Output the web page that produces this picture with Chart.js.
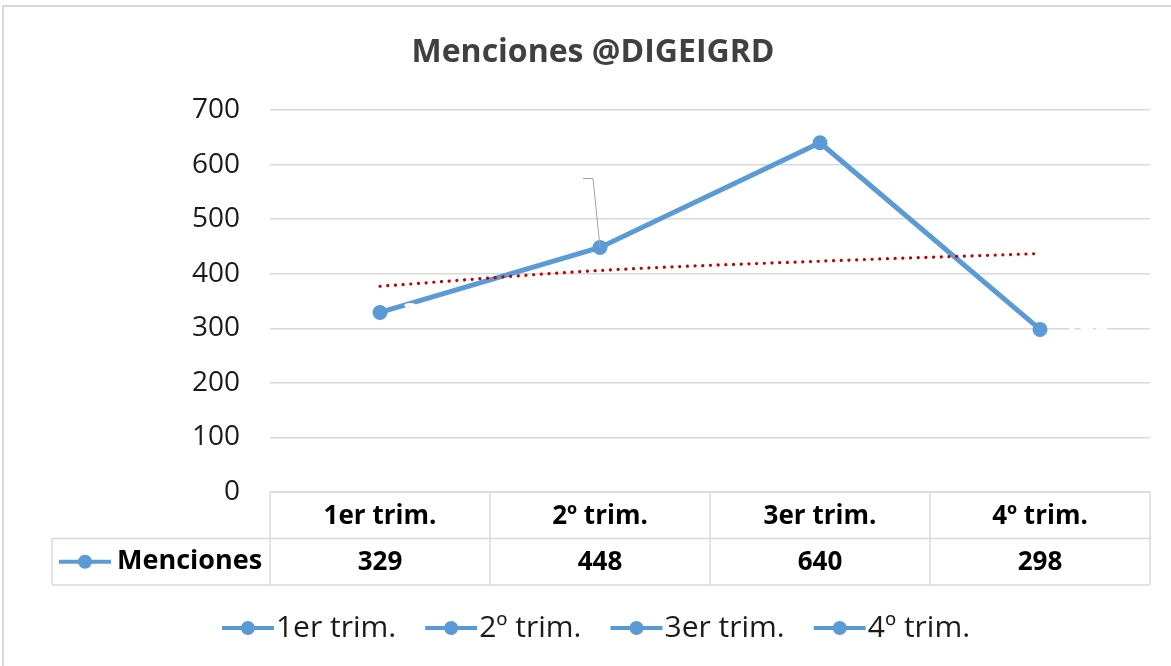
<!DOCTYPE html>
<html>
<head>
<meta charset="utf-8">
<script src="https://cdn.jsdelivr.net/npm/chart.js@4.4.1/dist/chart.umd.min.js"></script>
<style>
  html, body { margin: 0; padding: 0; background: #fff; }
  canvas { display: block; }
</style>
</head>
<body>
<canvas id="mencionesChart" width="1171" height="666"></canvas>
<script>
const chartTitle = 'Menciones @DIGEIGRD';
const categories = ['1er trim.', '2º trim.', '3er trim.', '4º trim.'];
const seriesName = 'Menciones';
const menciones = [329, 448, 640, 298];
// logarithmic trendline
const trendValues = [377, 406, 423, 437];
const yTicks = [0, 100, 200, 300, 400, 500, 600, 700];

const blue = '#5b9bd5';
const lineGray = '#d9d9d9';
const fontFamily = '"Open Sans", "Noto Sans", sans-serif';

function drawKey(ctx, x, y) {
    ctx.save();
    ctx.strokeStyle = blue;
    ctx.lineWidth = 4;
    ctx.beginPath();
    ctx.moveTo(x, y);
    ctx.lineTo(x + 52, y);
    ctx.stroke();
    ctx.fillStyle = blue;
    ctx.beginPath();
    ctx.arc(x + 26, y, 7, 0, Math.PI * 2);
    ctx.fill();
    ctx.restore();
}

const framePlugin = {
    id: 'frame',
    beforeDraw(chart) {
        const ctx = chart.ctx;
        ctx.save();
        ctx.fillStyle = '#ffffff';
        ctx.fillRect(0, 0, chart.width, chart.height);
        ctx.strokeStyle = lineGray;
        ctx.lineWidth = 2;
        ctx.beginPath();
        ctx.moveTo(3, chart.height);
        ctx.lineTo(3, 6);
        ctx.lineTo(chart.width, 6);
        ctx.stroke();
        ctx.restore();
    }
};

const labelPlugin = {
    id: 'whiteLabels',
    afterDatasetsDraw(chart) {
        const ctx = chart.ctx;
        const pts = chart.getDatasetMeta(0).data;
        ctx.save();
        // leader line of the moved label on the second point
        ctx.strokeStyle = '#a6a6a6';
        ctx.lineWidth = 1;
        ctx.beginPath();
        ctx.moveTo(583, 178.5);
        ctx.lineTo(593, 178.5);
        ctx.lineTo(pts[1].x, pts[1].y);
        ctx.stroke();

        ctx.fillStyle = '#ffffff';
        ctx.font = 'bold 27px ' + fontFamily;
        ctx.textBaseline = 'middle';
        ctx.textAlign = 'left';
        ctx.fillText(menciones[0], pts[0].x + 23, pts[0].y + 2);
        ctx.fillText(menciones[2], pts[2].x + 18, pts[2].y);
        ctx.fillText(menciones[3], pts[3].x + 23, pts[3].y);
        ctx.textAlign = 'right';
        ctx.fillText(menciones[1], 580, 178);
        ctx.restore();
    }
};

const tablePlugin = {
    id: 'dataTable',
    afterDraw(chart) {
        const ctx = chart.ctx;
        const area = chart.chartArea;
        const x = chart.scales.x;
        const cellW = x.getPixelForValue(1) - x.getPixelForValue(0);
        const top = area.bottom;
        const rowH = 46.5;
        const tableLeft = 52;

        ctx.save();
        ctx.strokeStyle = lineGray;
        ctx.lineWidth = 1.5;
        ctx.beginPath();
        ctx.moveTo(area.left, top);
        ctx.lineTo(area.right, top);
        ctx.moveTo(tableLeft, top + rowH);
        ctx.lineTo(area.right, top + rowH);
        ctx.moveTo(tableLeft, top + 2 * rowH);
        ctx.lineTo(area.right, top + 2 * rowH);
        for (let i = 0; i <= categories.length; i++) {
            const cx = area.left + i * cellW;
            ctx.moveTo(cx, top);
            ctx.lineTo(cx, top + 2 * rowH);
        }
        ctx.moveTo(tableLeft, top + rowH);
        ctx.lineTo(tableLeft, top + 2 * rowH);
        ctx.stroke();

        ctx.fillStyle = '#000000';
        ctx.font = 'bold 26px ' + fontFamily;
        ctx.textAlign = 'center';
        ctx.textBaseline = 'middle';
        categories.forEach((c, i) => {
            const cx = x.getPixelForValue(i);
            ctx.fillText(c, cx, top + rowH / 2 + 1);
            ctx.fillText(menciones[i], cx, top + rowH * 1.5 + 1);
        });

        drawKey(ctx, 59, top + rowH * 1.5);
        ctx.textAlign = 'left';
        ctx.font = 'bold 27px ' + fontFamily;
        ctx.fillText(seriesName, 117, top + rowH * 1.5);

        // title
        ctx.fillStyle = '#404040';
        ctx.font = 'bold 32px ' + fontFamily;
        ctx.textAlign = 'center';
        ctx.fillText(chartTitle, 593, 53);

        // legend: one entry per category
        ctx.font = '30px ' + fontFamily;
        ctx.fillStyle = '#1a1a1a';
        const gap = 29;
        const widths = categories.map(c => 54 + ctx.measureText(c).width);
        const total = widths.reduce((a, b) => a + b, 0) + gap * (categories.length - 1);
        let lx = 596 - total / 2;
        const ly = 628;
        categories.forEach((c, i) => {
            drawKey(ctx, lx, ly);
            ctx.textAlign = 'left';
            ctx.fillText(c, lx + 54, ly);
            lx += widths[i] + gap;
        });
        ctx.restore();
    }
};

const ctx = document.getElementById('mencionesChart').getContext('2d');
const mencionesChart = new Chart(ctx, {
    type: 'line',
    data: {
        labels: categories,
        datasets: [{
            label: seriesName,
            data: menciones,
            borderColor: blue,
            backgroundColor: blue,
            borderWidth: 5,
            pointRadius: 7.5,
            pointBorderWidth: 0,
            pointBackgroundColor: blue,
            tension: 0,
            fill: false,
            order: 0
        }, {
            label: 'Log. (' + seriesName + ')',
            data: trendValues,
            borderColor: '#c00000',
            borderWidth: 3.2,
            borderDash: [0.1, 7.6],
            borderCapStyle: 'round',
            cubicInterpolationMode: 'monotone',
            pointRadius: 0,
            fill: false,
            order: -1
        }]
    },
    options: {
        responsive: false,
        animation: false,
        layout: {
            padding: { top: 110, bottom: 174, left: 0, right: 21 }
        },
        scales: {
            x: {
                display: false,
                offset: true
            },
            y: {
                min: yTicks[0],
                max: yTicks[yTicks.length - 1],
                ticks: {
                    stepSize: yTicks[1] - yTicks[0],
                    padding: 30,
                    color: '#1a1a1a',
                    font: { family: fontFamily, size: 28 }
                },
                grid: {
                    color: lineGray,
                    lineWidth: 1.5,
                    drawTicks: false
                },
                border: { display: false },
                afterFit(scale) {
                    scale.width = 270;
                }
            }
        },
        plugins: {
            legend: { display: false },
            title: { display: false },
            tooltip: { enabled: false }
        }
    },
    plugins: [framePlugin, labelPlugin, tablePlugin]
});
</script>
</body>
</html>
